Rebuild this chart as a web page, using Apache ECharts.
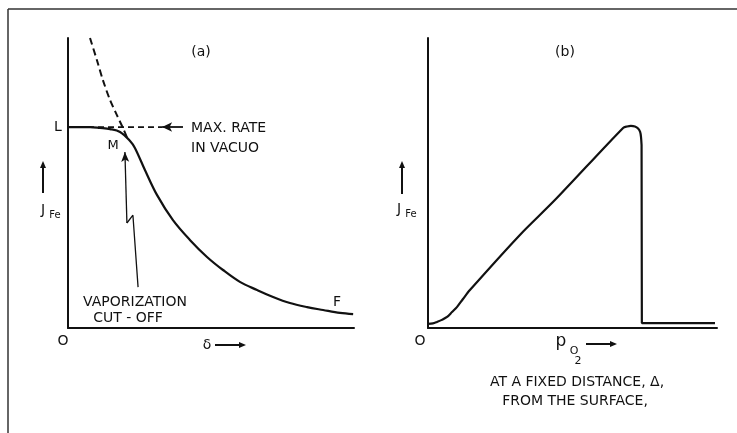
<!DOCTYPE html>
<html>
<head>
<meta charset="utf-8">
<script src="https://cdn.jsdelivr.net/npm/echarts@6/dist/echarts.min.js"></script>
<style>
  html, body { margin: 0; padding: 0; background: #fff; }
  #chart { width: 737px; height: 433px; }
</style>
</head>
<body>
<div id="chart"></div>
<script>
// Panel (a): iron flux J_Fe against boundary-layer thickness delta (arbitrary units, 0-100)
const deltaA = [0, 7.7, 11.2, 14.7, 18.2, 21.7, 23.4, 26.9, 31.1, 36.7, 42.7, 48.6, 54.2, 60.1, 66.1, 71.7, 77.6, 83.6, 89.2, 95.1, 99.7];
const fluxA  = [69.3, 69.3, 69.0, 68.6, 67.6, 64.5, 62.1, 54.5, 45.9, 37.2, 30.3, 24.5, 20.0, 15.9, 13.1, 10.7, 8.6, 7.2, 6.2, 5.2, 4.8];

// Diffusion-limited branch (dashed), rising steeply toward small delta
const deltaDiff = [7.7, 10.1, 12.2, 14.7, 17.1, 19.2, 21.0];
const fluxDiff  = [100, 92.4, 85.5, 78.6, 73.4, 69.0, 64.8];

// Maximum rate in vacuo (level L) and where its dashed guide stops
const maxRate = 69.3;
const maxRateDelta = [0, 32.9];
const maxRateArrowDelta = [40.2, 32.9];

// Pointer to the vaporization cut-off point M (delta, flux)
const cutoffDelta = [24.5, 22.7, 20.6, 19.9];
const cutoffFlux  = [14.1, 38.9, 36.2, 60.7];

// Panel (b): iron flux against oxygen partial pressure at a fixed distance
// rising branch up to the rounded maximum
const pO2Rise  = [0, 1.7, 3.1, 4.8, 6.6, 8.3, 10.0, 12.1, 14.5, 31.8, 43.9, 67.5, 68.9, 70.2, 71.6, 72.7, 73.4, 73.7, 73.9];
const fluxRise = [1.4, 1.6, 2.1, 2.8, 3.8, 5.5, 7.2, 10.0, 13.1, 32.1, 44.1, 69.0, 69.5, 69.7, 69.5, 68.8, 67.6, 65.9, 63.1];
// sudden drop and the low plateau beyond it
const pO2Drop  = [73.9, 74.0, 99.3];
const fluxDrop = [63.1, 1.7, 1.7];

// Axis and annotation texts
const panelTitles = ['(a)', '(b)'];
const originLabel = 'O';
const fluxSymbol = ['J', 'Fe'];
const deltaSymbol = 'δ';
const pressureSymbol = ['p', 'O', '2'];
const pointLabels = ['L', 'M', 'F'];
const vacuoNote = ['MAX. RATE', 'IN VACUO'];
const cutoffNote = ['VAPORIZATION', 'CUT - OFF'];
const distanceNote = ['AT A FIXED DISTANCE, Δ,', 'FROM THE SURFACE,'];

const ink = '#111';
const font = (size) => `${size}px "DejaVu Sans", sans-serif`;

function pairs(xs, ys) { return xs.map((x, i) => [x, ys[i]]); }

function txt(text, x, y, size, align) {
  return { type: 'text', silent: true, style: { text, x, y, font: font(size), fill: ink,
    textAlign: align || 'center', textVerticalAlign: 'middle' } };
}

function arrow(x1, y1, x2, y2) {
  const ang = Math.atan2(y2 - y1, x2 - x1);
  const L = 7, W = 3;
  const bx = x2 - L * Math.cos(ang), by = y2 - L * Math.sin(ang);
  const nx = -Math.sin(ang) * W, ny = Math.cos(ang) * W;
  return [
    { type: 'line', silent: true, shape: { x1, y1, x2: bx, y2: by }, style: { stroke: ink, lineWidth: 2 } },
    { type: 'polygon', silent: true, shape: { points: [[x2, y2], [bx + nx, by + ny], [bx - nx, by - ny]] }, style: { fill: ink } }
  ];
}

const axisCommon = {
  type: 'value', min: 0, max: 100,
  axisTick: { show: false }, axisLabel: { show: false }, splitLine: { show: false },
  axisLine: { show: true, onZero: false, lineStyle: { color: ink, width: 2 } }
};

const solid = { color: ink, width: 2.2 };

const option = {
  animation: false,
  backgroundColor: '#fff',
  grid: [
    { left: 68, top: 38, width: 286, height: 290 },
    { left: 428, top: 38, width: 289, height: 290 }
  ],
  xAxis: [
    Object.assign({ gridIndex: 0 }, axisCommon),
    Object.assign({ gridIndex: 1 }, axisCommon)
  ],
  yAxis: [
    Object.assign({ gridIndex: 0 }, axisCommon),
    Object.assign({ gridIndex: 1 }, axisCommon)
  ],
  series: [
    {
      type: 'line', xAxisIndex: 0, yAxisIndex: 0, showSymbol: false, smooth: 0.35,
      lineStyle: solid, data: pairs(deltaA, fluxA), silent: true
    },
    {
      type: 'line', xAxisIndex: 0, yAxisIndex: 0, showSymbol: false, smooth: 0.3,
      lineStyle: { color: ink, width: 2, type: [7, 4] }, data: pairs(deltaDiff, fluxDiff), silent: true
    },
    {
      type: 'line', xAxisIndex: 0, yAxisIndex: 0, showSymbol: false,
      lineStyle: { color: ink, width: 1.8, type: [6, 4] },
      data: maxRateDelta.map(d => [d, maxRate]), silent: true,
      markLine: {
        silent: true, symbol: ['none', 'arrow'], symbolSize: [7, 10],
        label: { show: false }, lineStyle: { color: ink, width: 1.8, type: 'solid' },
        data: [[{ coord: [maxRateArrowDelta[0], maxRate] }, { coord: [maxRateArrowDelta[1], maxRate] }]]
      }
    },
    {
      type: 'line', xAxisIndex: 0, yAxisIndex: 0, showSymbol: false,
      lineStyle: { color: ink, width: 1.3 },
      data: pairs(cutoffDelta, cutoffFlux).slice(0, 3), silent: true,
      markLine: {
        silent: true, symbol: ['none', 'arrow'], symbolSize: [6, 10],
        label: { show: false }, lineStyle: { color: ink, width: 1.3, type: 'solid' },
        data: [[{ coord: [cutoffDelta[2], cutoffFlux[2]] }, { coord: [cutoffDelta[3], cutoffFlux[3]] }]]
      }
    },
    {
      type: 'line', xAxisIndex: 1, yAxisIndex: 1, showSymbol: false, smooth: 0.3,
      lineStyle: solid, data: pairs(pO2Rise, fluxRise), silent: true
    },
    {
      type: 'line', xAxisIndex: 1, yAxisIndex: 1, showSymbol: false,
      lineStyle: solid, data: pairs(pO2Drop, fluxDrop), silent: true
    }
  ],
  graphic: [
    // frame edges
    { type: 'line', silent: true, shape: { x1: 8, y1: 9, x2: 737, y2: 9 }, style: { stroke: '#333', lineWidth: 1.5 } },
    { type: 'line', silent: true, shape: { x1: 8, y1: 9, x2: 8, y2: 433 }, style: { stroke: '#333', lineWidth: 1.5 } },

    // panel (a)
    txt(panelTitles[0], 201, 52, 14),
    txt(pointLabels[0], 58, 127, 14),
    txt(pointLabels[1], 113, 146, 13),
    txt(pointLabels[2], 337, 302, 14),
    txt(vacuoNote[0], 191, 128, 14, 'left'),
    txt(vacuoNote[1], 191, 148, 14, 'left'),
    txt(cutoffNote[0], 135, 302, 14),
    txt(cutoffNote[1], 128, 318, 14),
    txt(originLabel, 63, 341, 14),
    txt(deltaSymbol, 207, 345, 14),
    ...arrow(215, 345, 246, 345),
    ...arrow(43, 193, 43, 161),
    txt(fluxSymbol[0], 43, 210, 14),
    txt(fluxSymbol[1], 55, 215, 10),

    // panel (b)
    txt(panelTitles[1], 565, 52, 14),
    txt(originLabel, 420, 341, 14),
    ...arrow(402, 194, 402, 161),
    txt(fluxSymbol[0], 399, 209, 14),
    txt(fluxSymbol[1], 411, 214, 10),
    txt(pressureSymbol[0], 561, 342, 17),
    txt(pressureSymbol[1], 574, 351, 11),
    txt(pressureSymbol[2], 578, 361, 11),
    ...arrow(586, 344, 617, 344),
    txt(distanceNote[0], 577, 382, 14),
    txt(distanceNote[1], 575, 401, 14)
  ]
};

const chart = echarts.init(document.getElementById('chart'), null, { renderer: 'canvas' });
chart.setOption(option);
</script>
</body>
</html>
